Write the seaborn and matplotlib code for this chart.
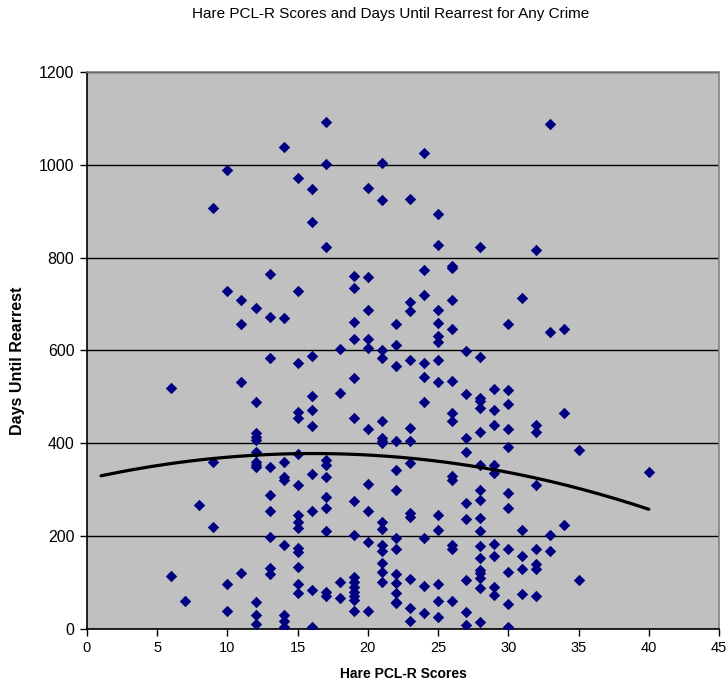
import numpy as np
import pandas as pd
import matplotlib
matplotlib.use("Agg")
import matplotlib.pyplot as plt
import seaborn as sns

# Hare PCL-R score -> days until rearrest
scores = {
    6: [520, 115],
    7: [60],
    8: [268],
    9: [908, 360, 219],
    10: [989, 729, 96, 39],
    11: [708, 658, 533, 120],
    12: [692, 488, 422, 414, 407, 382, 360, 353, 350, 59, 30, 11],
    13: [765, 673, 583, 348, 289, 254, 199, 132, 118],
    14: [1039, 670, 360, 328, 321, 181, 30, 17, 5],
    15: [971, 729, 572, 468, 454, 378, 310, 246, 231, 217, 175, 165, 134, 97, 77],
    16: [947, 876, 589, 503, 472, 437, 333, 254, 83, 4],
    17: [1092, 1001, 822, 364, 353, 328, 284, 260, 210, 80, 72],
    18: [603, 509, 101, 67],
    19: [760, 735, 661, 624, 541, 454, 276, 203, 113, 102, 91, 80, 70, 62, 39],
    20: [949, 759, 687, 624, 606, 430, 313, 254, 188, 39],
    21: [1005, 924, 601, 584, 449, 411, 405, 400, 231, 215, 181, 167, 142, 123, 101],
    22: [656, 612, 567, 405, 342, 299, 195, 172, 118, 98, 77, 59, 55],
    23: [927, 705, 686, 579, 432, 405, 357, 249, 242, 107, 45, 18],
    24: [1025, 773, 720, 572, 543, 488, 197, 93, 34],
    25: [894, 827, 687, 660, 631, 618, 579, 533, 246, 214, 97, 60, 25],
    26: [783, 778, 709, 646, 535, 465, 447, 330, 321, 181, 172, 60],
    27: [599, 507, 411, 381, 272, 236, 106, 36, 9],
    28: [824, 587, 497, 491, 475, 425, 353, 299, 278, 240, 212, 179, 152, 127, 120, 109, 88, 14],
    29: [517, 472, 439, 353, 335, 184, 158, 90, 73],
    30: [657, 514, 485, 431, 391, 292, 260, 172, 122, 54, 5, 2],
    31: [712, 213, 158, 129, 75],
    32: [816, 439, 425, 310, 172, 139, 129, 72],
    33: [1089, 640, 203, 167],
    34: [647, 465, 223],
    35: [386, 105],
    40: [338],
}

# order-2 polynomial trendline as shown on the chart (a + b*x + c*x^2)
trend_coef = [323.4, 6.775, -0.2103]
trend_range = [1, 40]

x_ticks = [0, 5, 10, 15, 20, 25, 30, 35, 40, 45]
y_ticks = [0, 200, 400, 600, 800, 1000, 1200]

x_vals = [k for k, v in scores.items() for _ in v]
y_vals = [d for v in scores.values() for d in v]
df = pd.DataFrame({"score": x_vals, "days": y_vals})

trend_x = np.linspace(trend_range[0], trend_range[1], 200)
trend_y = trend_coef[0] + trend_coef[1] * trend_x + trend_coef[2] * trend_x ** 2
trend_df = pd.DataFrame({"score": trend_x, "days": trend_y})

sns.set_theme(style="white")
plt.rcParams["font.family"] = ["Liberation Sans", "DejaVu Sans"]
plt.rcParams["text.color"] = "black"
plt.rcParams["axes.labelcolor"] = "black"
plt.rcParams["xtick.color"] = "black"
plt.rcParams["ytick.color"] = "black"

fig = plt.figure(figsize=(7.28, 6.85), dpi=100)
ax = fig.add_axes([0.1195, 0.0818, 0.8681, 0.8131])
ax.set_facecolor("#C0C0C0")

sns.scatterplot(data=df, x="score", y="days", marker="D", s=34, color="#000080",
                edgecolor="#000080", linewidth=0, ax=ax, zorder=3)
sns.lineplot(data=trend_df, x="score", y="days", color="black", linewidth=2.3,
             ax=ax, zorder=4)

ax.set_xlim(0, 45)
ax.set_ylim(0, 1200)
ax.set_xticks(x_ticks)
ax.set_yticks(y_ticks)
ax.set_xticklabels([str(t) for t in x_ticks], fontsize=10.5)
ax.set_yticklabels([str(t) for t in y_ticks], fontsize=11.5)
ax.yaxis.grid(True, color="black", linewidth=1)
ax.xaxis.grid(False)
ax.set_axisbelow(True)
ax.tick_params(axis="both", which="major", direction="out", length=5, width=1,
               color="black", labelcolor="black", bottom=True, left=True, pad=4)
for side, sp in ax.spines.items():
    sp.set_visible(True)
    sp.set_linewidth(1.2)
    sp.set_color("#808080" if side in ("top", "right") else "black")

ax.set_xlabel("Hare PCL-R Scores", fontsize=10, fontweight="bold", labelpad=8,
              color="black")
ax.set_ylabel("Days Until Rearrest", fontsize=11.5, fontweight="bold", color="black")
ax.yaxis.set_label_coords(-0.098, 0.481)
fig.text(0.537, 0.979, "Hare PCL-R Scores and Days Until Rearrest for Any Crime",
         ha="center", va="center", fontsize=11, color="black")

fig.savefig("out.png", dpi=100)
